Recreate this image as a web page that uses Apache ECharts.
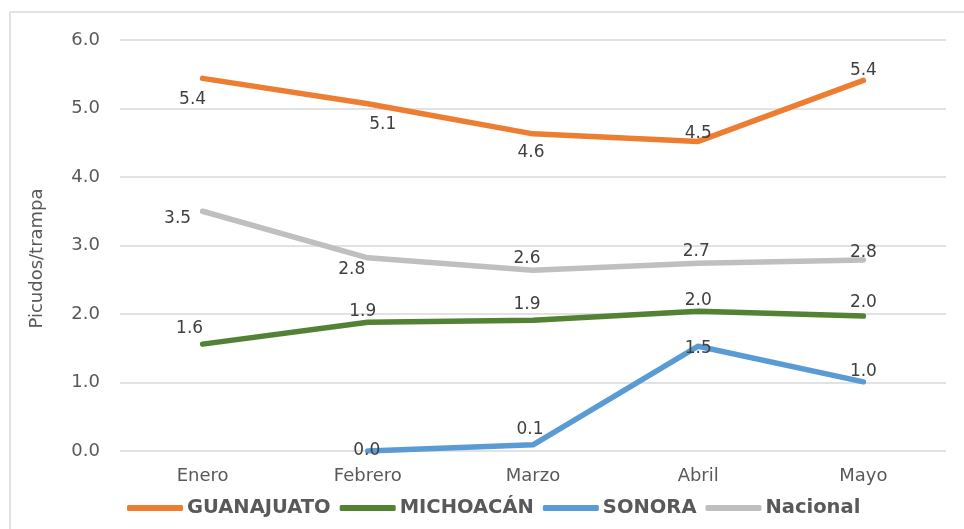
<!DOCTYPE html>
<html>
<head>
<meta charset="utf-8">
<script src="https://cdn.jsdelivr.net/npm/echarts@6/dist/echarts.min.js"></script>
<style>html,body{margin:0;padding:0;background:#fff;}#c{width:964px;height:529px;}</style>
</head>
<body>
<div id="c"></div>
<script>
const categories = ["Enero", "Febrero", "Marzo", "Abril", "Mayo"];
const guanajuato = [5.44, 5.07, 4.63, 4.52, 5.41];
const michoacan = [1.56, 1.88, 1.91, 2.04, 1.97];
const sonora = [null, 0.0, 0.09, 1.53, 1.01];
const nacional = [3.50, 2.82, 2.64, 2.74, 2.79];
const seriesNames = ["GUANAJUATO", "MICHOACÁN", "SONORA", "Nacional"];
const yTicks = [0, 1, 2, 3, 4, 5, 6];

const colors = ["#ED7D31", "#548235", "#5B9BD5", "#BFBFBF"];
const labelOffsets = [
  [[-10,21],[15,21],[-2,19],[0,-8],[0,-10]],
  [[-13,-16],[-5,-11],[-6,-16],[0,-11],[0,-13]],
  [[0,0],[-1,0],[-3,-15],[0,2],[0,-10]],
  [[-25,7],[-16,12],[-6,-12],[-2,-12],[0,-7]]
];
const FONT = "DejaVu Sans";

function mk(name, vals, idx) {
  return {
    name: name,
    type: "line",
    z: idx === 3 ? 1 : 2 + idx,
    data: vals.map((v, i) => v === null ? null : {
      value: v,
      label: { offset: labelOffsets[idx][i] }
    }),
    symbol: "circle",
    symbolSize: 0,
    showSymbol: true,
    lineStyle: { width: 5.5, color: colors[idx], cap: "round", join: "round" },
    itemStyle: { color: colors[idx] },
    label: {
      show: true,
      position: "inside",
      formatter: p => Number(p.value).toFixed(1),
      color: "#404040",
      fontFamily: FONT,
      fontSize: 17
    },
    emphasis: { disabled: true },
    connectNulls: false
  };
}

const chart = echarts.init(document.getElementById("c"), null, { renderer: "canvas" });
chart.setOption({
  animation: false,
  backgroundColor: "#fff",
  color: colors,
  graphic: [{
    type: "rect",
    shape: { x: 10, y: 12, width: 1000, height: 600 },
    style: { fill: "none", stroke: "#D9D9D9", lineWidth: 1.5 },
    silent: true, z: -1
  }],
  grid: { left: 120, right: 18, top: 40, bottom: 78, containLabel: false },
  legend: {
    bottom: 6,
    left: 122,
    itemWidth: 56,
    itemHeight: 6,
    itemGap: 9,
    icon: "roundRect",
    data: seriesNames,
    textStyle: { fontFamily: FONT, fontWeight: "bold", fontSize: 19.5, color: "#595959", padding: [0,0,0,-1] }
  },
  xAxis: {
    type: "category",
    data: categories,
    boundaryGap: true,
    axisLine: { show: false },
    axisTick: { show: false },
    axisLabel: { color: "#595959", fontFamily: FONT, fontSize: 18, margin: 16 }
  },
  yAxis: {
    type: "value",
    min: yTicks[0],
    max: yTicks[yTicks.length - 1],
    interval: 1,
    name: "Picudos/trampa",
    nameLocation: "middle",
    nameGap: 74,
    nameRotate: 90,
    nameTextStyle: { color: "#595959", fontFamily: FONT, fontSize: 18, padding: [0, 26, 0, 0] },
    axisLine: { show: false },
    axisTick: { show: false },
    axisLabel: { color: "#595959", fontFamily: FONT, fontSize: 18, margin: 20, formatter: v => v.toFixed(1) },
    splitLine: { lineStyle: { color: "#D9D9D9", width: 1.5 } }
  },
  series: [
    mk(seriesNames[0], guanajuato, 0),
    mk(seriesNames[1], michoacan, 1),
    mk(seriesNames[2], sonora, 2),
    mk(seriesNames[3], nacional, 3)
  ]
});
</script>
</body>
</html>
